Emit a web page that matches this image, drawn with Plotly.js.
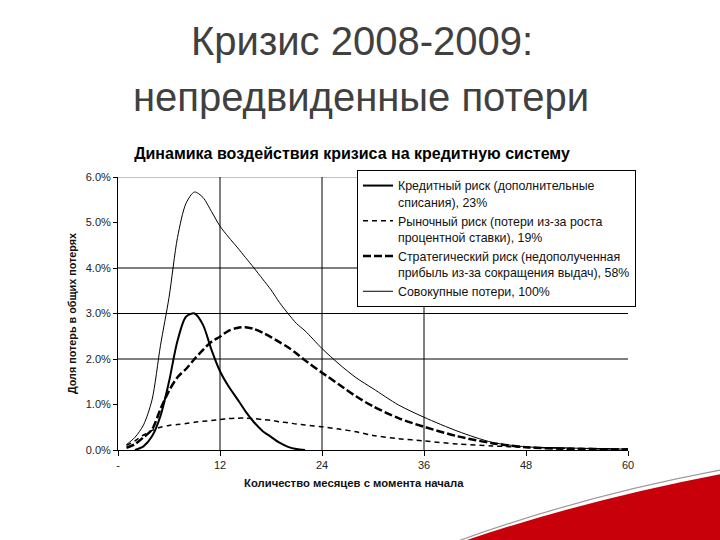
<!DOCTYPE html>
<html>
<head>
<meta charset="utf-8">
<script src="https://cdn.plot.ly/plotly-3.0.1.min.js"></script>
<style>html,body{margin:0;padding:0;background:#fff;}#chart{width:720px;height:540px;}</style>
</head>
<body>
<div id="chart"></div>
<script>
// ---- data (values in % of total losses) ----
const months = [1,2,3,4,5,6,7,8,9,10,11,12,13,14,15,16,17,18,19,20,21,22,24,26,28,30,33,36,40,44,48,52,56,60];
const creditRisk = [null,0.0,0.08,0.3,0.75,1.5,2.4,2.93,3.0,2.75,2.2,1.73,1.4,1.13,0.85,0.61,0.42,0.29,0.16,0.07,0.02,0.0,
  null,null,null,null,null,null,null,null,null,null,null,null];
const marketRisk = [0.1,0.2,0.33,0.43,0.5,0.54,0.56,0.58,0.61,0.63,0.65,0.67,0.69,0.7,0.7,0.69,0.67,0.65,0.62,0.6,0.57,0.55,
  0.51,0.46,0.4,0.32,0.25,0.2,0.13,0.09,0.06,0.04,0.03,0.02];
const strategicRisk = [0.05,0.13,0.28,0.45,0.9,1.3,1.6,1.78,2.0,2.2,2.38,2.49,2.62,2.68,2.7,2.66,2.58,2.48,2.37,2.26,2.12,1.97,
  1.7,1.44,1.18,0.96,0.7,0.51,0.3,0.15,0.06,0.03,0.02,0.01];
const totalLoss = [0.12,0.28,0.55,1.1,2.3,3.35,4.67,5.42,5.67,5.55,5.24,4.92,4.68,4.46,4.23,4.0,3.76,3.52,3.24,3.0,2.78,2.62,
  2.23,1.89,1.59,1.35,0.99,0.72,0.41,0.17,0.07,0.05,0.03,0.02];
const seriesNames = [
  "Кредитный риск (дополнительные<br>списания), 23%",
  "Рыночный риск (потери из-за роста<br>процентной ставки), 19%",
  "Стратегический риск (недополученная<br>прибыль из-за сокращения выдач), 58%",
  "Совокупные потери, 100%"
];
const xTickVals = [0,12,24,36,48,60];
const xTickText = ["-","12","24","36","48","60"];
const yTickVals = [0,1,2,3,4,5,6];
const yTickText = ["0.0%","1.0%","2.0%","3.0%","4.0%","5.0%","6.0%"];
const gridY = [2,3,4,6];
const gridX = [12,24,36];
const slideTitle1 = "Кризис 2008-2009:";
const slideTitle2 = "непредвиденные потери";
const chartTitle = "Динамика воздействия кризиса на кредитную систему";
const xTitle = "Количество месяцев с момента начала";
const yTitle = "Доля потерь в общих потерях";

// ---- layout helpers (plot area: 118..628 px, 177..450 px) ----
const L = 118, R = 92, T = 177, B = 90, W = 720, H = 540;
const pw = W - L - R, ph = H - T - B;
const px = x => (x - L) / pw;
const py = y => (H - B - y) / ph;

const FONT = "Liberation Sans, Arial, sans-serif";

const traces = [
  {x: months, y: creditRisk, name: seriesNames[0], mode: "lines",
   line: {color: "#000", width: 2, shape: "spline", smoothing: 0.8}},
  {x: months, y: marketRisk, name: seriesNames[1], mode: "lines",
   line: {color: "#000", width: 1.5, dash: "5px,4px", shape: "spline", smoothing: 0.8}},
  {x: months, y: strategicRisk, name: seriesNames[2], mode: "lines",
   line: {color: "#000", width: 2.5, dash: "8px,3px", shape: "spline", smoothing: 0.8}},
  {x: months, y: totalLoss, name: seriesNames[3], mode: "lines",
   line: {color: "#000", width: 1, shape: "spline", smoothing: 0.8}}
];

const shapes = [];
gridY.forEach(v => shapes.push({type: "line", xref: "x", yref: "y", x0: 0, x1: 60, y0: v, y1: v,
  line: {color: v === 6 ? "#888" : "#000", width: 1}, layer: "below"}));
gridX.forEach(v => shapes.push({type: "line", xref: "x", yref: "y", x0: v, x1: v, y0: 0, y1: 6,
  line: {color: "#000", width: 1}, layer: "below"}));
// decorative red swoosh (bottom-right corner)
shapes.push({type: "path", xref: "paper", yref: "paper",
  path: `M ${px(464)} ${py(541)} Q ${px(585)} ${py(500)} ${px(721)} ${py(474)} L ${px(721)} ${py(541)} Z`,
  fillcolor: "#c8000a", line: {width: 0}});
shapes.push({type: "path", xref: "paper", yref: "paper",
  path: `M ${px(458)} ${py(541)} Q ${px(582)} ${py(496)} ${px(721)} ${py(470)}`,
  line: {color: "#999", width: 1.2}});

const annotations = [
  {text: slideTitle1, xref: "paper", yref: "paper", x: px(362), y: py(41), xanchor: "center", yanchor: "middle",
   showarrow: false, font: {family: FONT, size: 40, color: "#404040"}},
  {text: slideTitle2, xref: "paper", yref: "paper", x: px(361), y: py(97), xanchor: "center", yanchor: "middle",
   showarrow: false, font: {family: FONT, size: 40, color: "#404040"}},
  {text: "<b>" + xTitle + "</b>", xref: "paper", yref: "paper", x: px(242), y: py(483), xanchor: "left", yanchor: "middle",
   showarrow: false, font: {family: FONT, size: 11.3, color: "#111"}}
];

const layout = {
  width: W, height: H,
  margin: {l: L, r: R, t: T, b: B},
  paper_bgcolor: "#fff", plot_bgcolor: "#fff",
  font: {family: FONT, color: "#111"},
  title: {text: "<b>" + chartTitle + "</b>", x: 352 / W, xanchor: "center", xref: "container",
          y: 1 - 153 / H, yref: "container", yanchor: "middle",
          font: {family: FONT, size: 16, color: "#000"}},
  xaxis: {range: [0, 60], tickmode: "array", tickvals: xTickVals, ticktext: xTickText, showgrid: false, zeroline: false,
          showline: true, linecolor: "#000", linewidth: 1, ticks: "outside", ticklen: 5, tickcolor: "#000",
          tickfont: {family: FONT, size: 11, color: "#222"}, fixedrange: true},
  yaxis: {range: [0, 6], tickmode: "array", tickvals: yTickVals, ticktext: yTickText, showgrid: false, zeroline: false,
          showline: true, linecolor: "#000", linewidth: 1, ticks: "outside", ticklen: 4, tickcolor: "#000",
          tickfont: {family: FONT, size: 11, color: "#222"},
          title: {text: "<b>" + yTitle + "</b>", standoff: 6, font: {family: FONT, size: 10.8, color: "#111"}},
          fixedrange: true},
  showlegend: true,
  legend: {x: px(357), y: py(170), xanchor: "left", yanchor: "top", bgcolor: "#fff",
           bordercolor: "#000", borderwidth: 1, valign: "top",
           font: {family: FONT, size: 12.4, color: "#111"}, tracegroupgap: 4},
  shapes: shapes,
  annotations: annotations
};

Plotly.newPlot("chart", traces, layout, {displayModeBar: false, staticPlot: true});
</script>
</body>
</html>
